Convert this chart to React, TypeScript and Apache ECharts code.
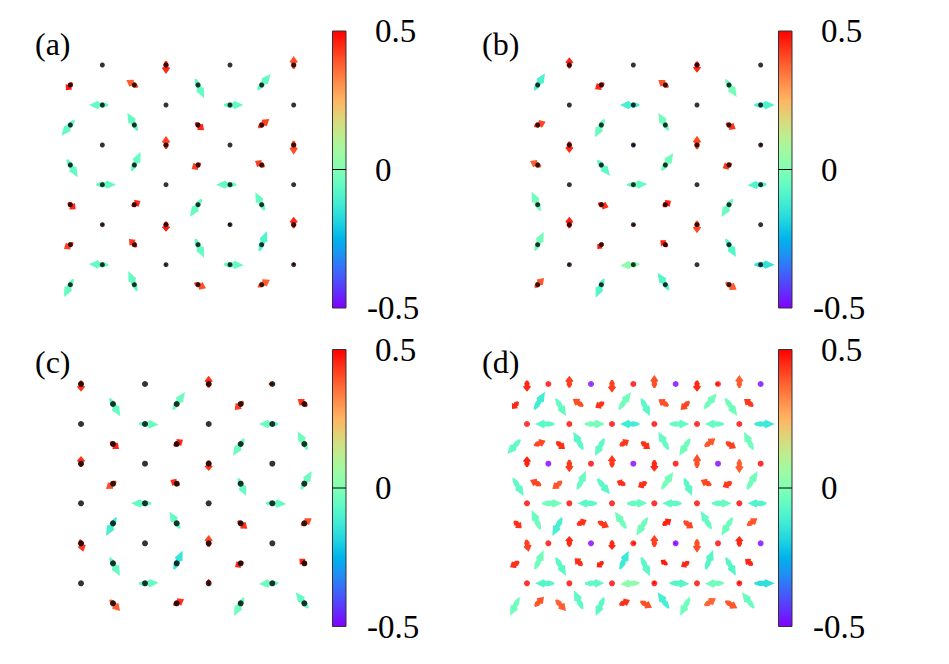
import React, { useEffect, useRef } from "react";
import * as echarts from "echarts";

// Colour scale of the colour bars, bottom (-0.5) to top (0.5)
const paletteStops = [
  "#8000ff", "#6032fe", "#4062fa", "#208ef4", "#00b4ec", "#20d4e1", "#40ecd4", "#60fac5", "#80ffb4",
  "#9ffaa2", "#bfec8e", "#dfd478", "#ffb462", "#ff8e4a", "#ff6232", "#ff3219", "#ff0000",
];
const colorTicks = [-0.5, 0, 0.5];
const panelLabels = ["(a)", "(b)", "(c)", "(d)"];

// Lattice rows / columns, in axis units
const rowsAB = [135, 195, 255, 315, 375, 435, 494, 554, 614, 674, 734, 794];
const rowsCD = [117, 177, 237, 297, 356, 416, 475, 535, 595, 655, 715, 775];
const aColsOdd = [217, 408, 600, 791];
const aColsEven = [121, 313, 504, 695];
const bColsOdd = [268, 460, 651, 842];
const bColsEven = [173, 364, 556, 747];
const cColsOdd = [153, 345, 536, 727];
const cColsEven = [249, 440, 632, 823];
const dColsOdd = [141, 205, 268, 333, 396, 460, 523, 587, 651, 714, 778, 842];
const dColsEven = [109, 173, 237, 300, 364, 428, 492, 556, 620, 684, 747, 811];

// Each site: [dx, dy, value]; rows run top to bottom
const aVectors = [
  [[0, 0, 0], [0, 27, 0.45], [0, 0, 0], [0, -27, 0.4]],
  [[-13, 16, 0.47], [-24, -15, 0.38], [18, 40, -0.05], [27, -33, -0.05]],
  [[-40, 0, -0.05], [0, 0, 0], [40, 0, -0.05], [0, 0, 0.45]],
  [[-27, 32, -0.05], [-21, -37, -0.05], [18, 16, 0.45], [23, -18, 0.42]],
  [[0, 0, -0.5], [0, -27, 0.42], [0, 0, 0], [0, 29, 0.4]],
  [[22, 37, -0.05], [19, -39, -0.05], [-19, 12, 0.42], [-20, -12, 0.42]],
  [[41, 0, -0.05], [0, 0, 0], [-42, 0, -0.05], [0, 0, 0]],
  [[16, 14, 0.45], [18, -11, 0.45], [-24, 36, -0.05], [-19, -37, -0.05]],
  [[5, -2, 0.47], [0, 21, 0.47], [-6, -3, -0.5], [0, -24, 0.45]],
  [[-19, 13, 0.42], [-16, -17, 0.43], [18, 39, -0.05], [16, -41, -0.09]],
  [[-40, -2, -0.05], [-4, 0, 0.45], [41, 2, -0.05], [0, -7, 0.48]],
  [[-19, 37, -0.05], [-18, -41, -0.05], [24, 11, 0.4], [25, -15, 0.38]],
];
const bVectors = [
  [[0, -23, 0.45], [0, 0, 0], [0, 23, 0.45], [0, 0, 0]],
  [[22, -35, -0.1], [-19, 13, 0.45], [-21, -15, 0.4], [23, 36, -0.02]],
  [[0, 0, 0], [-40, 0, -0.11], [0, 0, 0], [42, 0, -0.1]],
  [[24, -10, 0.41], [-19, 37, -0.04], [-21, -36, -0.03], [20, 12, 0.43]],
  [[0, 24, 0.45], [6, 2, -0.5], [0, -28, 0.41], [5, -5, 0.47]],
  [[-23, -12, 0.38], [26, 32, -0.06], [24, -36, -0.03], [-19, 10, 0.43]],
  [[0, 0, 0], [42, -2, -0.05], [0, 0, 0.45], [-39, 2, -0.09]],
  [[-18, -39, -0.03], [22, 8, 0.44], [17, -12, 0.46], [-23, 37, -0.04]],
  [[0, -24, 0.46], [8, 1, 0.45], [0, 26, 0.41], [0, 0, -0.5]],
  [[18, -39, -0.02], [-12, 13, 0.47], [-15, -13, 0.46], [21, 37, -0.08]],
  [[-3, -4, 0.45], [-39, 3, 0.03], [0, 0, 0], [42, 0, -0.15]],
  [[19, -20, 0.39], [-17, 39, -0.08], [-23, -36, -0.08], [23, 15, 0.38]],
];
const cVectors = [
  [[0, 23, 0.44], [0, 0, 0], [0, -25, 0.44], [-12, 0, 0.45]],
  [[22, 37, -0.05], [25, -36, -0.04], [-18, 18, 0.42], [-20, -15, 0.43]],
  [[0, 0, 0], [41, 2, -0.04], [0, 0, 0], [-40, 0, -0.04]],
  [[18, 15, 0.45], [19, -13, 0.45], [-23, 35, -0.04], [-20, -38, -0.03]],
  [[0, -23, 0.44], [0, 0, 0.45], [0, 22, 0.43], [0, 0, 0]],
  [[-21, 16, 0.4], [-19, -11, 0.44], [16, 36, -0.05], [22, -38, -0.04]],
  [[0, 0, 0], [-42, 0, -0.05], [0, 0, 0], [42, 2, -0.05]],
  [[-21, 38, -0.11], [-22, -35, -0.05], [20, 16, 0.44], [22, -15, 0.4]],
  [[7, 25, 0.43], [0, 0, 0], [0, -25, 0.41], [0, 0, 0]],
  [[21, 38, -0.05], [18, -38, -0.14], [-17, 11, 0.44], [-15, -14, 0.45]],
  [[0, 0, 0.45], [41, -2, -0.05], [0, -14, 0.46], [-40, 2, -0.04]],
  [[21, 23, 0.38], [22, -12, 0.44], [-20, 38, -0.03], [-26, -33, -0.05]],
];
const dVectors = [
  [[0, 23, 0.45], [0, 0, 0.5], [0, -25, 0.42], [0, 0, -0.5], [0, 26, 0.42], [0, 0, 0.5], [0, -27, 0.4], [0, 0, -0.5], [0, 23, 0.45], [-8, 0, 0.48], [0, -27, 0.38], [0, 0, -0.5]],
  [[-13, 15, 0.45], [22, -37, -0.12], [21, 36, -0.05], [-22, -15, 0.4], [-18, 11, 0.44], [25, -36, -0.03], [18, 36, -0.07], [-21, -14, 0.4], [-18, 18, 0.41], [26, -32, -0.03], [25, 36, -0.03], [-19, -15, 0.43]],
  [[0, 0, 0.5], [-40, 0, -0.07], [0, 0, 0.5], [42, 0, -0.02], [0, 0, 0.5], [-40, 0, -0.12], [0, 0, 0.5], [41, 0, -0.05], [0, 0, 0.5], [-39, 0, -0.05], [0, 0, 0.5], [42, 0, -0.13]],
  [[-27, 30, -0.06], [24, -10, 0.41], [18, 15, 0.44], [-20, -37, -0.07], [-19, 36, -0.06], [19, -12, 0.43], [18, 15, 0.44], [-21, -37, -0.05], [-22, 35, -0.03], [22, -17, 0.39], [21, 13, 0.42], [-19, -37, -0.03]],
  [[0, -22, 0.46], [0, 0, -0.5], [0, 26, 0.43], [0, 0, 0.5], [0, -26, 0.43], [0, 0, -0.5], [0, 24, 0.45], [0, 0, 0.5], [0, -29, 0.4], [0, 0, -0.5], [0, 29, 0.38], [0, 0, 0.5]],
  [[22, 37, -0.06], [-23, -11, 0.41], [-20, 16, 0.39], [18, -38, -0.04], [26, 32, -0.07], [-18, -8, 0.44], [-18, 11, 0.44], [24, -35, -0.02], [16, 36, -0.07], [-22, -11, 0.41], [-19, 10, 0.43], [21, -37, -0.03]],
  [[0, 0, 0.5], [42, 0, -0.03], [0, 0, 0.5], [-41, 0, -0.07], [0, 0, 0.5], [42, -1, -0.05], [0, 0, 0.5], [-40, 0, -0.06], [0, 0, 0.5], [41, 0, -0.05], [0, 0, 0.5], [-39, 0, -0.09]],
  [[16, 15, 0.44], [-18, -40, -0.04], [-20, 38, -0.11], [20, -10, 0.44], [23, 12, 0.43], [-23, -35, -0.03], [-23, 37, -0.03], [18, -12, 0.46], [20, 15, 0.41], [-22, -37, -0.05], [-23, 37, -0.03], [21, -15, 0.39]],
  [[5, 25, 0.42], [0, 0, 0.5], [0, -22, 0.45], [0, 0, -0.5], [0, 20, 0.45], [8, 0, 0.48], [0, -25, 0.42], [-5, 0, -0.5], [0, 28, 0.4], [0, 0, 0.5], [0, -22, 0.45], [0, 0, -0.5]],
  [[-19, 12, 0.44], [18, -39, -0.03], [21, 37, -0.07], [-16, -15, 0.44], [-14, 12, 0.46], [18, -38, -0.13], [18, 39, -0.07], [-14, -10, 0.47], [-17, 10, 0.45], [15, -40, -0.08], [21, 37, -0.08], [-16, -13, 0.45]],
  [[0, 0, 0.5], [-40, 0, -0.08], [0, 0, 0.5], [40, -1, -0.06], [0, 0, 0.5], [-40, 3, 0.03], [0, -8, 0.49], [41, 1, -0.08], [0, 0, 0.5], [-39, 1, -0.03], [0, -6, 0.49], [42, 0, -0.16]],
  [[-19, 37, -0.03], [19, -20, 0.39], [21, 23, 0.38], [-18, -39, -0.06], [-17, 38, -0.07], [22, -10, 0.44], [24, 13, 0.4], [-23, -33, -0.11], [-20, 37, -0.03], [24, -15, 0.37], [25, 15, 0.39], [-25, -33, -0.04]],
];

const panels = [
  { vectors: aVectors, rows: rowsAB, odd: aColsOdd, even: aColsEven, left: 30, top: 20, barLeft: 332.5, barTop: 31, dot: "#000", dotSize: 5 },
  { vectors: bVectors, rows: rowsAB, odd: bColsOdd, even: bColsEven, left: 480, top: 20, barLeft: 778.5, barTop: 31, dot: "#000", dotSize: 5 },
  { vectors: cVectors, rows: rowsCD, odd: cColsOdd, even: cColsEven, left: 30, top: 345, barLeft: 332.5, barTop: 349.5, dot: "#000", dotSize: 6 },
  { vectors: dVectors, rows: rowsCD, odd: dColsOdd, even: dColsEven, left: 480, top: 345, barLeft: 778.5, barTop: 349.5, dot: null, dotSize: 6 },
];

const colorOf = (v: number) => echarts.color.lerp(Math.min(1, Math.max(0, v + 0.5)), paletteStops) as string;

function renderArrow(_: any, api: any) {
  const x = api.value(0), y = api.value(1), dx = api.value(2), dy = api.value(3);
  const o = api.coord([x, y]);
  const tip = api.coord([x + dx, y + dy]);
  const ux0 = tip[0] - o[0], uy0 = tip[1] - o[1];
  const L = Math.hypot(ux0, uy0);
  if (L === 0) return null;
  const ux = ux0 / L, uy = uy0 / L;
  const k = Math.max(0.45, Math.min(1, L / 7));
  const h = 0.66 * L;
  const P = (a: number, b: number) => [o[0] + ux * a - uy * b, o[1] + uy * a + ux * b];
  const pts = [
    [L, 0], [L - h, 4.2 * k], [L - h - 0.12 * L, 2.3 * k], [-0.05 * L, 2.8 * k], [-0.45 * L, 0.9 * k],
    [-0.45 * L, -0.9 * k], [-0.05 * L, -2.8 * k], [L - h - 0.12 * L, -2.3 * k], [L - h, -4.2 * k],
  ].map(([a, b]) => P(a, b));
  return { type: "polygon", shape: { points: pts }, style: { fill: colorOf(api.value(4)) } };
}

function renderBar(_: any, api: any) {
  const a = api.coord([0, 0.5]);
  const b = api.coord([1, -0.5]);
  const z = api.coord([0, 0]);
  return {
    type: "group",
    children: [
      {
        type: "rect",
        shape: { x: a[0], y: a[1], width: b[0] - a[0], height: b[1] - a[1] },
        style: {
          stroke: "#333", lineWidth: 1,
          fill: new echarts.graphic.LinearGradient(0, 1, 0, 0,
            paletteStops.map((color, i) => ({ offset: i / (paletteStops.length - 1), color }))),
        },
      },
      { type: "line", shape: { x1: a[0], y1: z[1], x2: b[0], y2: z[1] }, style: { stroke: "#000", lineWidth: 1 } },
    ],
  };
}

const serif = "'Liberation Serif', 'Times New Roman', serif";

export default function App() {
  const ref = useRef<HTMLDivElement>(null);
  useEffect(() => {
    const chart = echarts.init(ref.current!, undefined, { renderer: "svg" });
    const grid: any[] = [], xAxis: any[] = [], yAxis: any[] = [], series: any[] = [], title: any[] = [];
    panels.forEach((p, i) => {
      // Field
      grid.push({ left: p.left, top: p.top, width: 290, height: 300 });
      xAxis.push({ type: "value", gridIndex: grid.length - 1, min: 0, max: 870, show: false });
      yAxis.push({ type: "value", gridIndex: grid.length - 1, min: 0, max: 900, inverse: true, show: false });
      const points: number[][] = [];
      p.vectors.forEach((row, r) => {
        const cols = r % 2 === 0 ? p.odd : p.even;
        row.forEach(([dx, dy, v], c) => points.push([cols[c], p.rows[r], dx, dy, v]));
      });
      series.push({
        type: "custom", xAxisIndex: xAxis.length - 1, yAxisIndex: yAxis.length - 1,
        renderItem: renderArrow, encode: { x: 0, y: 1 }, data: points, silent: true, z: 2,
      });
      series.push({
        type: "scatter", xAxisIndex: xAxis.length - 1, yAxisIndex: yAxis.length - 1, silent: true, z: 3,
        symbol: "circle", symbolSize: p.dotSize,
        data: p.dot ? points.map((d) => [d[0], d[1]]) : points.filter((d) => Math.hypot(d[2], d[3]) < 10).map((d) => [d[0], d[1], d[4]]),
        itemStyle: { color: p.dot ? p.dot : (q: any) => colorOf(q.value[2]) },
      });
      // Colour bar
      grid.push({ left: p.barLeft, top: p.barTop, width: 13.5, height: 277 });
      const g = grid.length - 1;
      xAxis.push({ type: "value", gridIndex: g, min: 0, max: 1, show: false });
      const yBase = {
        type: "value", gridIndex: g, min: colorTicks[0], max: colorTicks[2], interval: 0.5, position: "right",
        splitLine: { show: false }, axisLine: { show: false }, axisTick: { show: false },
      };
      yAxis.push({
        ...yBase,
        axisLabel: { margin: 29, fontFamily: serif, fontSize: 33, color: "#000", formatter: (v: number) => (v < 0 ? "" : String(v)) },
      });
      const barY = yAxis.length - 1;
      yAxis.push({
        ...yBase,
        axisLabel: { margin: 21, fontFamily: serif, fontSize: 33, color: "#000", formatter: (v: number) => (v < 0 ? String(v) : "") },
      });
      series.push({
        type: "custom", xAxisIndex: xAxis.length - 1, yAxisIndex: barY, renderItem: renderBar,
        encode: { x: 0, y: 1 }, data: [[0, 0]], silent: true, z: 1,
      });
      title.push({
        text: panelLabels[i], left: i % 2 === 0 ? 35 : 482, top: i < 2 ? 28 : 346, padding: 0,
        textStyle: { fontFamily: serif, fontSize: 32, fontWeight: "normal", color: "#000" },
      });
    });
    chart.setOption({ animation: false, backgroundColor: "#fff", title, grid, xAxis, yAxis, series });
    return () => chart.dispose();
  }, []);
  return <div ref={ref} style={{ position: "absolute", left: 0, top: 0, width: 949, height: 664 }} />;
}
